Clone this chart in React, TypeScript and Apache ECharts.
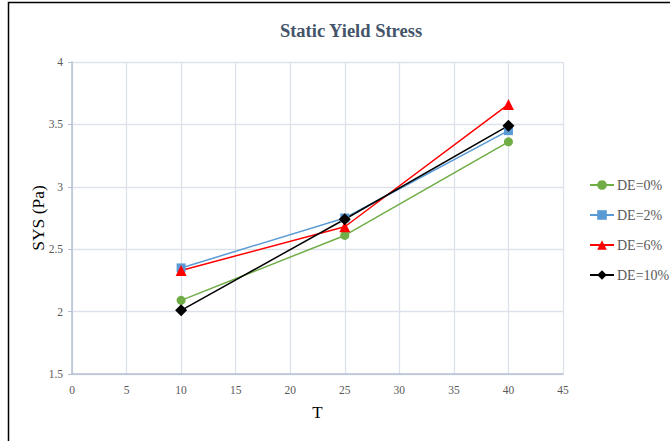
import React, { useEffect, useRef } from "react";
import * as echarts from "echarts";

const xValues = [10, 25, 40];
const de0 = [2.09, 2.61, 3.36];
const de2 = [2.35, 2.75, 3.45];
const de6 = [2.33, 2.68, 3.66];
const de10 = [2.01, 2.74, 3.49];
const seriesNames = ["DE=0%", "DE=2%", "DE=6%", "DE=10%"];

const serif = "Liberation Serif";

export default function App() {
  const ref = useRef<HTMLDivElement>(null);
  useEffect(() => {
    const chart = echarts.init(ref.current!, null, { renderer: "svg" });
    const mk = (vals: number[]) => xValues.map((x, i) => [x, vals[i]]);
    chart.setOption({
      animation: false,
      backgroundColor: "#ffffff",
      title: {
        text: "Static Yield Stress",
        left: 346,
        textAlign: "center",
        top: 16,
        padding: 5,
        textStyle: { fontFamily: serif, fontSize: 18.5, fontWeight: "bold", color: "#44546A" },
      },
      graphic: [
        {
          type: "rect",
          shape: { x: 8.5, y: 2.5, width: 700, height: 500 },
          style: { fill: "none", stroke: "#000", lineWidth: 1.5 },
          silent: true,
        },
      ],
      grid: { left: 72, right: 107, top: 62, bottom: 67 },
      legend: {
        orient: "vertical",
        left: 589,
        top: 178,
        padding: 0,
        itemWidth: 24,
        itemHeight: 12,
        itemGap: 16,
        textStyle: { fontFamily: serif, fontSize: 14, color: "#595959", padding: [0, 0, 0, -2] },
        data: seriesNames,
      },
      xAxis: {
        type: "value",
        min: 0,
        max: 45,
        interval: 5,
        name: "T",
        nameLocation: "middle",
        nameGap: 30,
        nameMoveOverlap: false,
        nameTextStyle: { fontFamily: serif, fontSize: 17, color: "#000" },
        axisLine: { show: true, lineStyle: { color: "#B4C0D3", width: 1.5 } },
        axisTick: { show: false },
        axisLabel: { fontFamily: serif, fontSize: 11.5, color: "#595959", margin: 10 },
        splitLine: { show: true, lineStyle: { color: "#DDE2EA", width: 1.3 } },
      },
      yAxis: {
        type: "value",
        min: 1.5,
        max: 4,
        interval: 0.5,
        name: "SYS (Pa)",
        nameLocation: "middle",
        nameRotate: 90,
        nameGap: 25,
        nameMoveOverlap: false,
        nameTextStyle: { fontFamily: serif, fontSize: 17.5, color: "#000" },
        axisLine: { show: true, lineStyle: { color: "#B4C0D3", width: 1.5 } },
        axisTick: { show: true, length: 4, lineStyle: { color: "#B4C0D3" } },
        axisLabel: { fontFamily: serif, fontSize: 11.5, color: "#595959", margin: 9 },
        splitLine: { show: true, lineStyle: { color: "#DDE2EA", width: 1.3 } },
      },
      series: [
        {
          name: seriesNames[0],
          type: "line",
          data: mk(de0),
          symbol: "circle",
          symbolSize: 9,
          lineStyle: { color: "#70AD47", width: 1.5 },
          itemStyle: { color: "#70AD47" },
        },
        {
          name: seriesNames[1],
          type: "line",
          data: mk(de2),
          symbol: "rect",
          symbolSize: 9,
          lineStyle: { color: "#5B9BD5", width: 1.5 },
          itemStyle: { color: "#5B9BD5" },
        },
        {
          name: seriesNames[2],
          type: "line",
          data: mk(de6),
          symbol: "triangle",
          symbolSize: 11,
          lineStyle: { color: "#FF0000", width: 1.5 },
          itemStyle: { color: "#FF0000" },
        },
        {
          name: seriesNames[3],
          type: "line",
          data: mk(de10),
          symbol: "diamond",
          symbolSize: 12,
          lineStyle: { color: "#000000", width: 1.5 },
          itemStyle: { color: "#000000" },
        },
      ],
    });
    return () => chart.dispose();
  }, []);
  return (
    <div
      ref={ref}
      style={{ position: "fixed", left: 0, top: 0, width: 670, height: 441 }}
    />
  );
}
